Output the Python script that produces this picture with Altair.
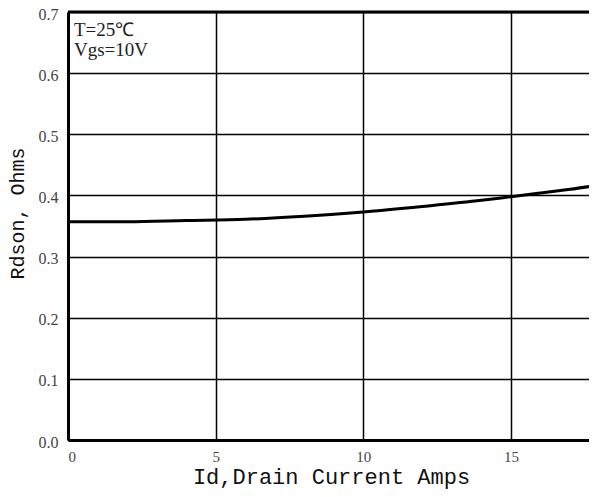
import altair as alt
import pandas as pd

id_amps = [0, 2, 4, 6, 8, 10, 12, 14, 15, 16, 17, 18]
rdson = [0.357, 0.357, 0.359, 0.361, 0.366, 0.373, 0.382, 0.392, 0.398, 0.404, 0.410, 0.417]
x_ticks = [0, 5, 10, 15]
y_ticks = [0.0, 0.1, 0.2, 0.3, 0.4, 0.5, 0.6, 0.7]
notes = ["T=25℃", "Vgs=10V"]

df = pd.DataFrame({"id": id_amps, "r": rdson})

xs = alt.Scale(domain=[0, 17.64], nice=False, zero=False)
ys = alt.Scale(domain=[0, 0.7], nice=False)

line = alt.Chart(df).mark_line(color="black", strokeWidth=3, interpolate="monotone", clip=True).encode(
    x=alt.X("id:Q", scale=xs, title="Id,Drain Current Amps",
            axis=alt.Axis(values=x_ticks, format="d", grid=True, gridColor="black", gridWidth=1.5,
                          gridOpacity=1, ticks=False, domain=True, domainColor="black", domainWidth=3,
                          labelFont="Liberation Serif", labelFontSize=15, labelColor="#444",
                          labelPadding=9, titleFont="Liberation Mono", titleFontSize=22,
                          titleFontWeight="normal", titleColor="#111",
                          titleX=263, titleY=43, titleBaseline="alphabetic", titleAlign="center")),
    y=alt.Y("r:Q", scale=ys, title="Rdson, Ohms",
            axis=alt.Axis(values=y_ticks, format=".1f", grid=True, gridColor="black", gridWidth=1.5,
                          gridOpacity=1, ticks=False, domain=True, domainColor="black", domainWidth=3,
                          labelFont="Liberation Serif", labelFontSize=16, labelColor="#444",
                          labelPadding=10, labelOffset=2, labelFlush=False,
                          titleFont="Liberation Mono", titleFontSize=20,
                          titleFontWeight="normal", titleColor="#111",
                          titleX=-51, titleY=201, titleAngle=270, titleAlign="center",
                          titleBaseline="middle")),
)

top = alt.Chart(pd.DataFrame({"y": [0.7]})).mark_rule(color="black", strokeWidth=3).encode(
    y=alt.Y("y:Q", scale=ys)
)

ndf = pd.DataFrame({"t": notes, "yy": [0.6706, 0.6378]})
text = alt.Chart(ndf).mark_text(align="left", baseline="middle", font="Liberation Serif",
                                fontSize=19, color="#222", dx=6).encode(
    x=alt.value(0),
    y=alt.Y("yy:Q", scale=ys),
    text="t:N",
)

chart = alt.layer(line, top, text).properties(
    width=521, height=428,
    autosize=alt.AutoSizeParams(type="none"),
    padding={"left": 60, "top": 4, "right": 0, "bottom": 49},
).configure_view(stroke=None)

chart.save("out.html", embed_options={"renderer": "svg", "actions": False})
